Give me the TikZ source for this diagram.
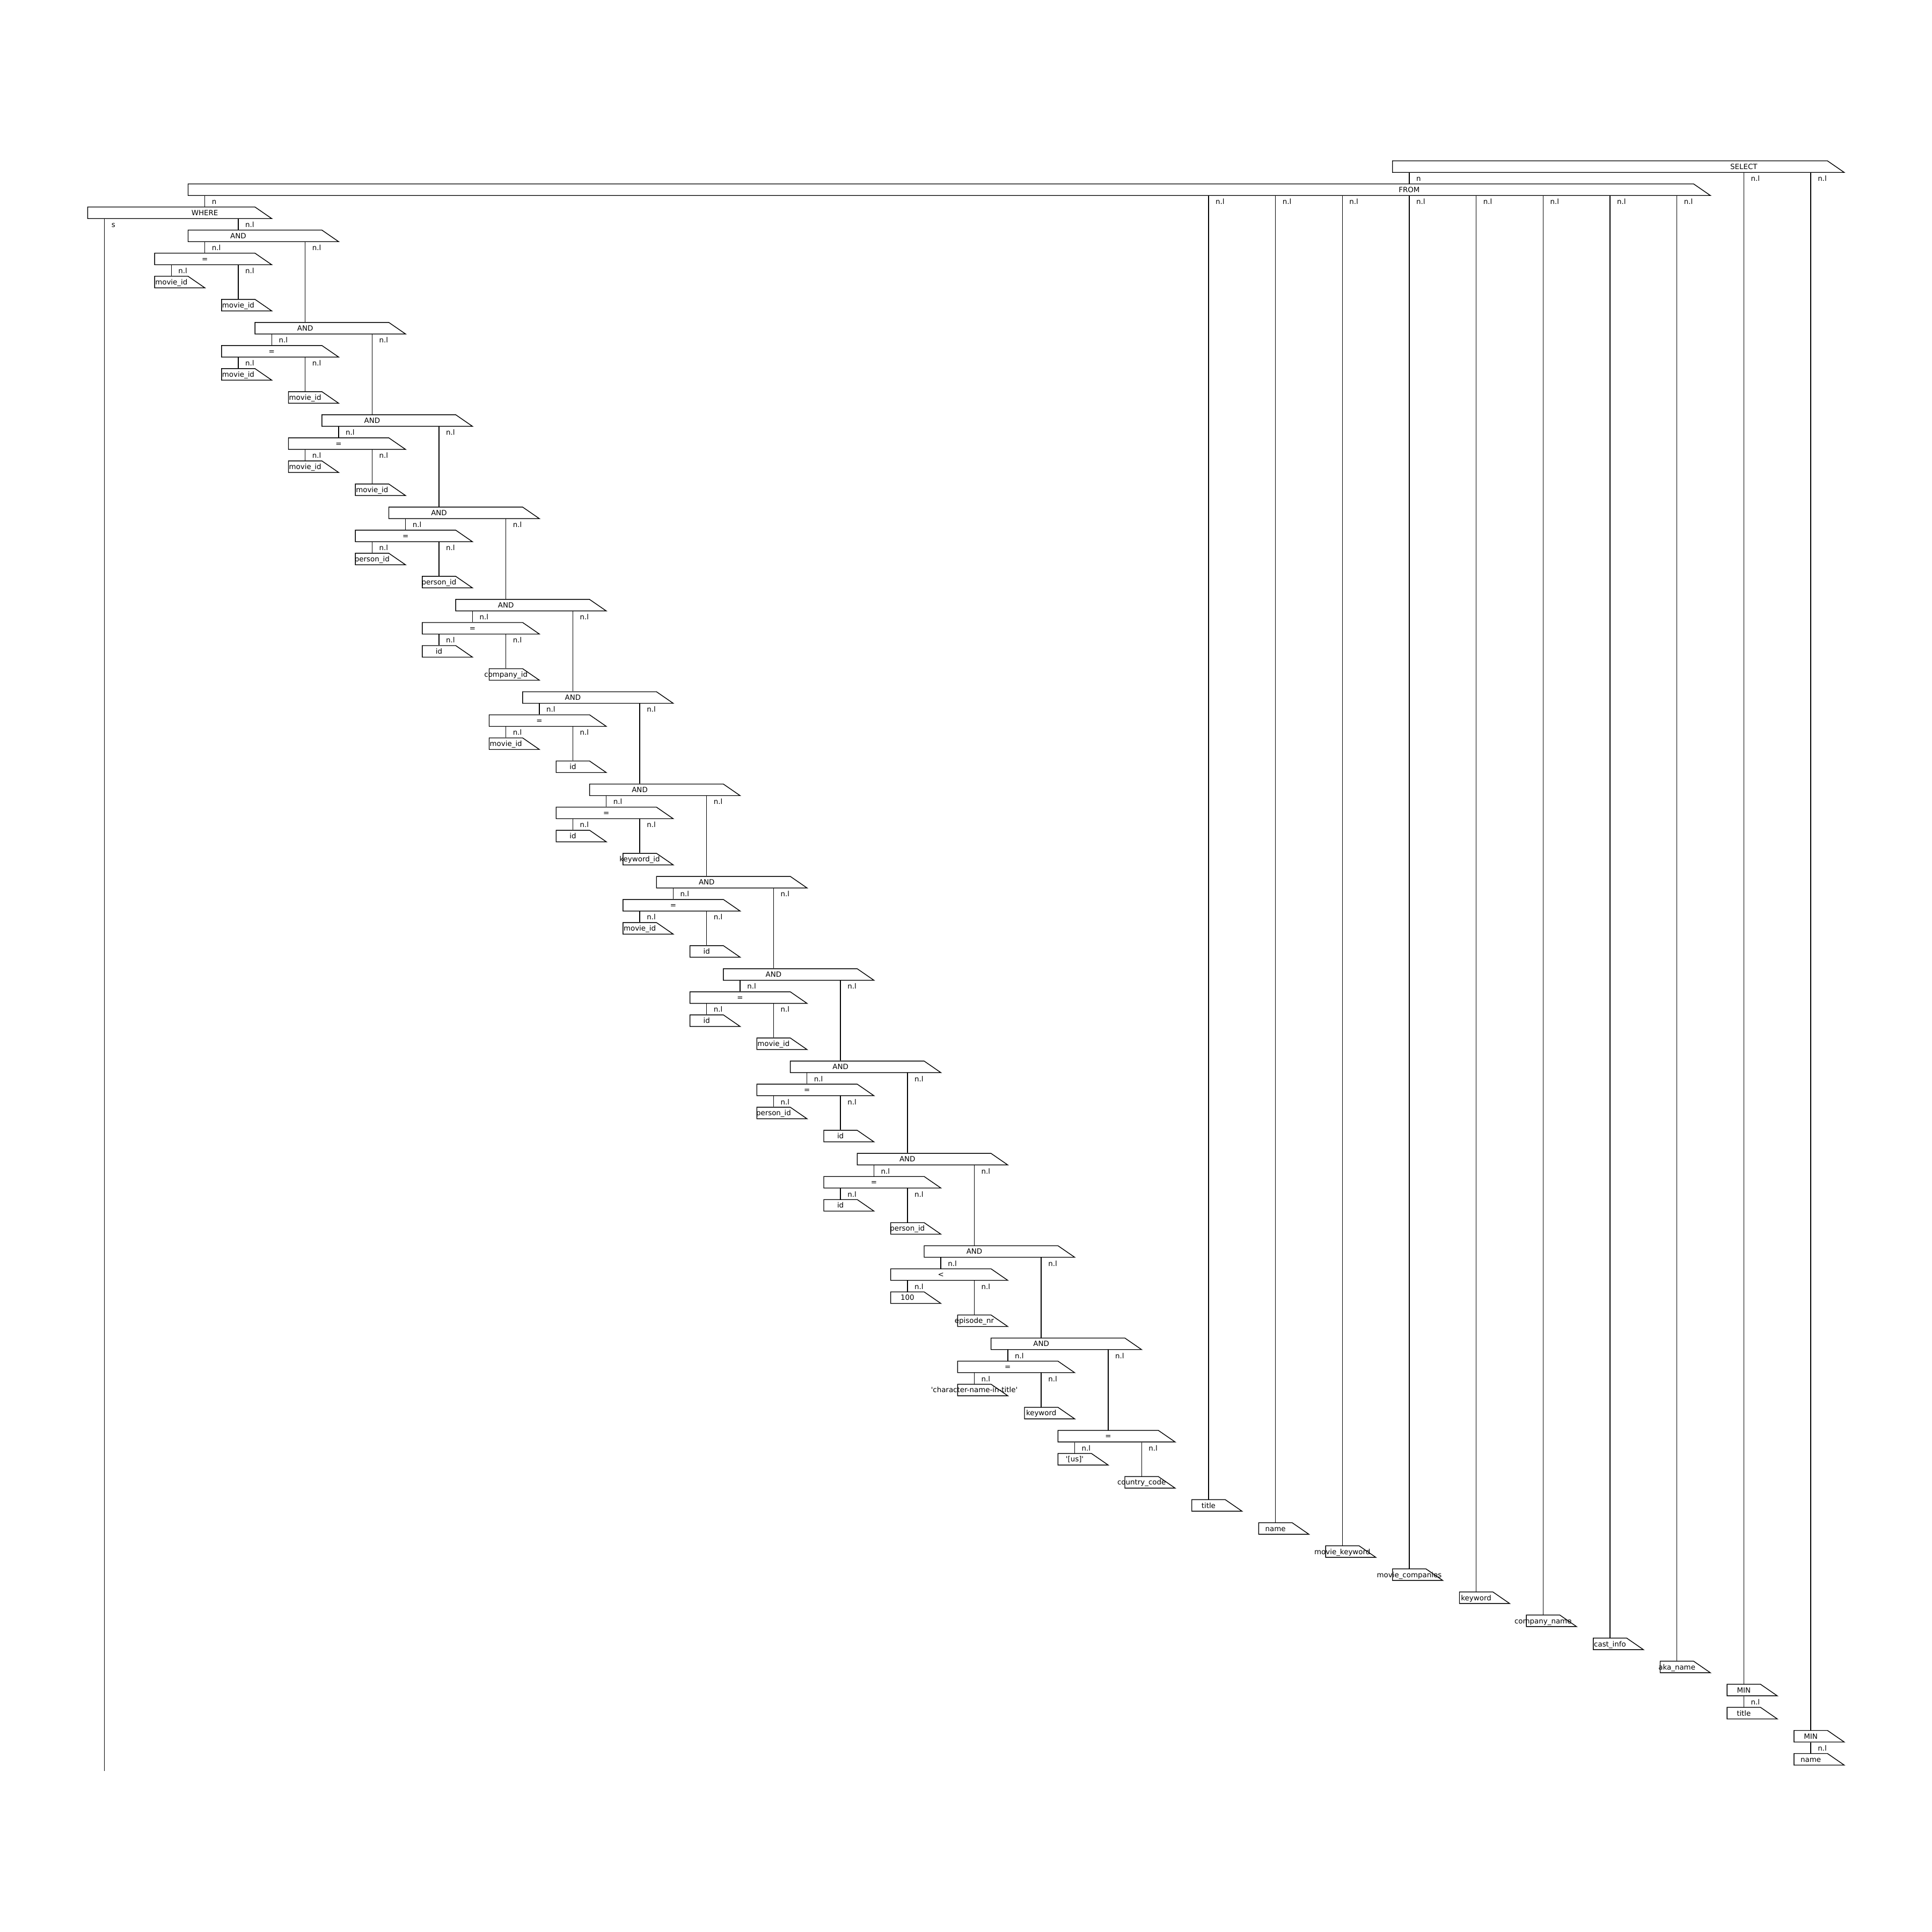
\documentclass[tikz,border=0pt]{standalone}
\usepackage{fontspec}
\setmainfont{DejaVu Sans}
\newcommand{\qbox}[3]{\draw (#2,#1-0.25) -- (#3,#1-0.25) -- (#3+1,#1+0.25) -- (#2,#1+0.25) -- cycle;}

\begin{document}
\begin{tikzpicture}[x=0.3117cm, y=-0.4301cm, line width=0.4pt,
	every node/.style={inner sep=0pt, font=\fontsize{3.81}{4.5}\selectfont, text height=0.12cm, text depth=0.022cm},
	txt/.style={minimum height=0.215cm},
	elbl/.style={anchor=west, xshift=0.125cm, yshift=-0.1075cm}]
	\useasboundingbox (-1.946cm,3.105cm) rectangle (34.054cm,-32.895cm);

	\qbox{0}{77}{103} \node[txt] (sel) at (98,0) {SELECT};
	\qbox{1}{5}{95} \node[txt] (from) at (78,1) {FROM};
	\qbox{2}{-1}{9} \node[txt] (where) at (6,2) {WHERE};
	\coordinate (send) at (0,69.5);
	\draw (from.north |- sel.south) node[elbl] {n} -- (from.north);
	\draw (where.north |- from.south) node[elbl] {n} -- (where.north);
	\draw (send |- where.south) node[elbl] {s} -- (send);

	\foreach \k/\op/\lfa/\lfb in {0/=/movie\_id/movie\_id, 1/=/movie\_id/movie\_id, 2/=/movie\_id/movie\_id,
		3/=/person\_id/person\_id, 4/=/id/company\_id, 5/=/movie\_id/id, 6/=/id/keyword\_id,
		7/=/movie\_id/id, 8/=/id/movie\_id, 9/=/person\_id/id, 10/=/id/person\_id, 11/</100/episode\_nr,
		12/=/\textquotesingle{}character-name-in-title\textquotesingle/keyword} {
		\pgfmathtruncatemacro\cc{4*\k}
		\qbox{\cc+3}{\cc+5}{\cc+13} \node[txt] (and\k) at (\cc+8,\cc+3) {AND};
		\qbox{\cc+4}{\cc+3}{\cc+9} \node[txt] (eq\k) at (\cc+6,\cc+4) {\op};
		\qbox{\cc+5}{\cc+3}{\cc+5} \node[txt] (la\k) at (\cc+4,\cc+5) {\lfa};
		\qbox{\cc+6}{\cc+7}{\cc+9} \node[txt] (lb\k) at (\cc+8,\cc+6) {\lfb};
		\draw (eq\k.north |- and\k.south) node[elbl] {n.l} -- (eq\k.north);
		\draw (la\k.north |- eq\k.south) node[elbl] {n.l} -- (la\k.north);
		\draw (lb\k.north |- eq\k.south) node[elbl] {n.l} -- (lb\k.north);
	}
	\draw (and0.north |- where.south) node[elbl] {n.l} -- (and0.north);
	\foreach \k [evaluate=\k as \nk using int(\k+1)] in {0,...,11}
		\draw (and\nk.north |- and\k.south) node[elbl] {n.l} -- (and\nk.north);

	\qbox{55}{57}{63} \node[txt] (eq13) at (60,55) {=};
	\qbox{56}{57}{59} \node[txt] (la13) at (58,56) {\textquotesingle[us]\textquotesingle};
	\qbox{57}{61}{63} \node[txt] (lb13) at (62,57) {country\_code};
	\draw (eq13.north |- and12.south) node[elbl] {n.l} -- (eq13.north);
	\draw (la13.north |- eq13.south) node[elbl] {n.l} -- (la13.north);
	\draw (lb13.north |- eq13.south) node[elbl] {n.l} -- (lb13.north);

	\foreach \i/\tname in {1/title, 2/name, 3/movie\_keyword, 4/movie\_companies,
		5/keyword, 6/company\_name, 7/cast\_info, 8/aka\_name} {
		\pgfmathtruncatemacro\cc{62+4*\i}
		\pgfmathtruncatemacro\rr{57+\i}
		\qbox{\rr}{\cc-1}{\cc+1} \node[txt] (tab\i) at (\cc,\rr) {\tname};
		\draw (tab\i.north |- from.south) node[elbl] {n.l} -- (tab\i.north);
	}

	\qbox{66}{97}{99} \node[txt] (min1) at (98,66) {MIN};
	\qbox{67}{97}{99} \node[txt] (mint) at (98,67) {title};
	\qbox{68}{101}{103} \node[txt] (min2) at (102,68) {MIN};
	\qbox{69}{101}{103} \node[txt] (minn) at (102,69) {name};
	\draw (min1.north |- sel.south) node[elbl] {n.l} -- (min1.north);
	\draw (min2.north |- sel.south) node[elbl] {n.l} -- (min2.north);
	\draw (mint.north |- min1.south) node[elbl] {n.l} -- (mint.north);
	\draw (minn.north |- min2.south) node[elbl] {n.l} -- (minn.north);
\end{tikzpicture}
\end{document}
